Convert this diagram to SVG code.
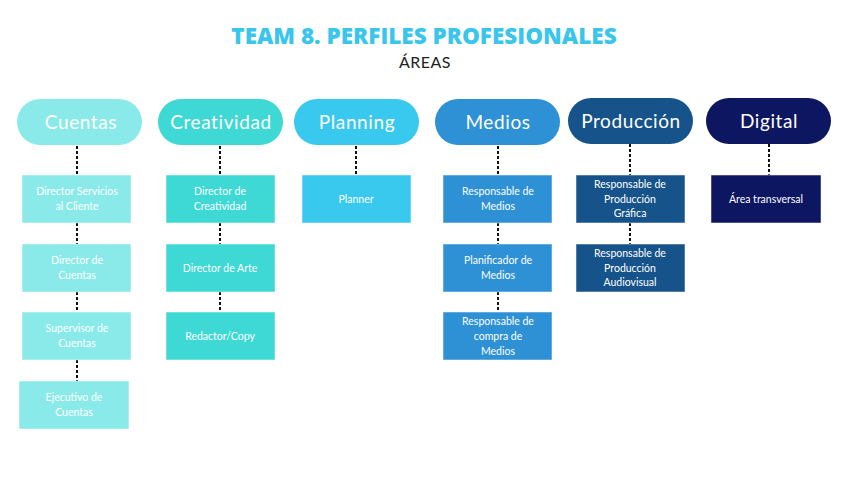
<svg xmlns="http://www.w3.org/2000/svg" width="848" height="477" viewBox="0 0 848 477">
<style>
.title{font-family:"Open Sans","Liberation Sans",sans-serif;font-weight:800;font-size:22.5px;fill:#3ac6eb;text-anchor:middle}
.sub{font-family:"Lato","Liberation Sans",sans-serif;font-size:16px;fill:#222;text-anchor:middle;letter-spacing:0.5px}
.pt{font-family:"Lato","Liberation Sans",sans-serif;font-size:19px;fill:#fff;text-anchor:middle;letter-spacing:0.6px}
.bt{font-family:"Lato","Liberation Sans",sans-serif;font-size:10.5px;fill:#fff;text-anchor:middle}
.c1{fill:#8aeae9}.c2{fill:#3ed8d5}.c3{fill:#39c8ee}.c4{fill:#2e91d5}.c5{fill:#16538a}.c6{fill:#0d1660}
.box{stroke:#ffffff;stroke-opacity:0.5;stroke-width:1}
.dash{stroke:#111;stroke-width:2;stroke-dasharray:3 2;fill:none}
</style>
<rect width="848" height="477" fill="#fff"/>
<text class="title" x="424" y="44">TEAM 8. PERFILES PROFESIONALES</text>
<text class="sub" x="425" y="68">ÁREAS</text>

<g id="connectors">
<path class="dash" d="M77 146V175M77 223V244M77 292V312M77 360V381"/>
<path class="dash" d="M220 146V175M220 223V244M220 292V312"/>
<path class="dash" d="M356 146V175"/>
<path class="dash" d="M498 146V175M498 223V244M498 292V312"/>
<path class="dash" d="M630 144V175M630 223V244"/>
<path class="dash" d="M769 144V175"/>
</g>

<g id="cuentas"><rect class="c1" x="17" y="99" width="125" height="46" rx="23"/><text class="pt" x="81" y="129">Cuentas</text></g>
<g id="creatividad"><rect class="c2" x="158" y="99" width="125" height="46" rx="23"/><text class="pt" x="221" y="129">Creatividad</text></g>
<g id="planning"><rect class="c3" x="294" y="99" width="125" height="46" rx="23"/><text class="pt" x="357" y="129">Planning</text></g>
<g id="medios"><rect class="c4" x="435" y="99" width="125" height="46" rx="23"/><text class="pt" x="498" y="129">Medios</text></g>
<g id="produccion"><rect class="c5" x="568" y="98" width="125" height="46" rx="23"/><text class="pt" x="631" y="128">Producción</text></g>
<g id="digital"><rect class="c6" x="706" y="98" width="125" height="46" rx="23"/><text class="pt" x="769" y="128">Digital</text></g>

<g id="dir-servicios"><rect class="c1 box" x="22" y="175" width="109" height="48"/><text class="bt" x="77" y="195">Director Servicios</text><text class="bt" x="77" y="210">al Cliente</text></g>
<g id="dir-cuentas"><rect class="c1 box" x="22" y="244" width="109" height="48"/><text class="bt" x="77" y="264">Director de</text><text class="bt" x="77" y="279">Cuentas</text></g>
<g id="sup-cuentas"><rect class="c1 box" x="22" y="312" width="109" height="48"/><text class="bt" x="77" y="332">Supervisor de</text><text class="bt" x="77" y="347">Cuentas</text></g>
<g id="eje-cuentas"><rect class="c1 box" x="19" y="381" width="110" height="48"/><text class="bt" x="74" y="401">Ejecutivo de</text><text class="bt" x="74" y="416">Cuentas</text></g>

<g id="dir-creatividad"><rect class="c2 box" x="166" y="175" width="109" height="48"/><text class="bt" x="220" y="195">Director de</text><text class="bt" x="220" y="210">Creatividad</text></g>
<g id="dir-arte"><rect class="c2 box" x="166" y="244" width="109" height="48"/><text class="bt" x="220" y="272">Director de Arte</text></g>
<g id="redactor"><rect class="c2 box" x="166" y="312" width="109" height="48"/><text class="bt" x="220" y="340">Redactor/Copy</text></g>

<g id="planner"><rect class="c3 box" x="302" y="175" width="109" height="48"/><text class="bt" x="356" y="203">Planner</text></g>

<g id="resp-medios"><rect class="c4 box" x="443" y="175" width="109" height="48"/><text class="bt" x="498" y="195">Responsable de</text><text class="bt" x="498" y="210">Medios</text></g>
<g id="plan-medios"><rect class="c4 box" x="443" y="244" width="109" height="48"/><text class="bt" x="498" y="264">Planificador de</text><text class="bt" x="498" y="279">Medios</text></g>
<g id="compra-medios"><rect class="c4 box" x="443" y="312" width="109" height="48"/><text class="bt" x="498" y="325">Responsable de</text><text class="bt" x="498" y="340">compra de</text><text class="bt" x="498" y="355">Medios</text></g>

<g id="prod-grafica"><rect class="c5 box" x="576" y="175" width="109" height="48"/><text class="bt" x="630" y="188">Responsable de</text><text class="bt" x="630" y="203">Producción</text><text class="bt" x="630" y="217">Gráfica</text></g>
<g id="prod-audiovisual"><rect class="c5 box" x="576" y="244" width="109" height="48"/><text class="bt" x="630" y="257">Responsable de</text><text class="bt" x="630" y="272">Producción</text><text class="bt" x="630" y="286">Audiovisual</text></g>

<g id="area-transversal"><rect class="c6 box" x="711" y="175" width="110" height="48"/><text class="bt" x="766" y="203">Área transversal</text></g>
</svg>
